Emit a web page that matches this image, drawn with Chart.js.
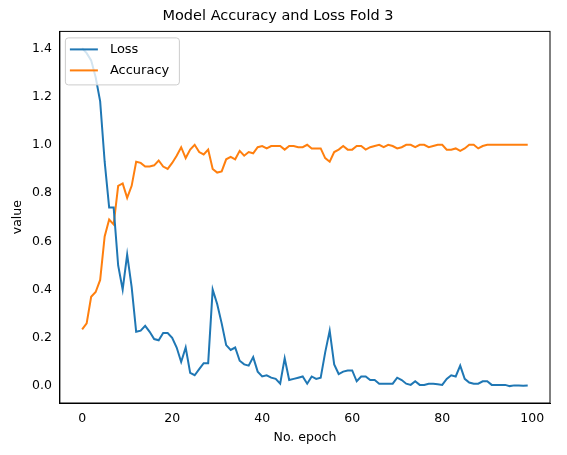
<!DOCTYPE html>
<html>
<head>
<meta charset="utf-8">
<script src="https://cdn.jsdelivr.net/npm/chart.js@4"></script>
<style>
  html, body { margin: 0; padding: 0; background: #fff; }
  #wrap { width: 567px; height: 455px; }
</style>
</head>
<body>
<div id="wrap"><canvas id="chart" width="567" height="455"></canvas></div>
<script>
// values, one per epoch
const lossValues = [1.40, 1.38, 1.35, 1.28, 1.18, 0.93, 0.74, 0.74, 0.50, 0.40,
  0.545, 0.41, 0.225, 0.23, 0.25, 0.225, 0.195, 0.19, 0.22, 0.22,
  0.20, 0.16, 0.10, 0.16, 0.055, 0.045, 0.07, 0.095, 0.095, 0.40,
  0.34, 0.26, 0.17, 0.15, 0.16, 0.105, 0.09, 0.085, 0.12, 0.06,
  0.04, 0.045, 0.035, 0.03, 0.01, 0.115, 0.025, 0.03, 0.035, 0.04,
  0.01, 0.04, 0.03, 0.035, 0.14, 0.23, 0.09, 0.05, 0.06, 0.065,
  0.065, 0.02, 0.04, 0.04, 0.025, 0.025, 0.01, 0.01, 0.01, 0.01,
  0.035, 0.025, 0.01, 0.005, 0.02, 0.005, 0.005, 0.01, 0.01, 0.008,
  0.005, 0.03, 0.045, 0.04, 0.085, 0.03, 0.015, 0.01, 0.01, 0.02,
  0.02, 0.005, 0.005, 0.005, 0.005, 0.0, 0.003, 0.003, 0.002, 0.003];

const accuracyValues = [0.235, 0.26, 0.37, 0.39, 0.44, 0.62, 0.69, 0.67, 0.83, 0.84,
  0.78, 0.83, 0.93, 0.925, 0.91, 0.91, 0.915, 0.935, 0.91, 0.90,
  0.925, 0.955, 0.99, 0.945, 0.98, 1.0, 0.97, 0.96, 0.98, 0.90,
  0.885, 0.89, 0.94, 0.95, 0.94, 0.975, 0.955, 0.97, 0.965, 0.99,
  0.995, 0.985, 0.995, 0.995, 0.995, 0.98, 0.995, 0.995, 0.99, 0.99,
  1.0, 0.985, 0.985, 0.985, 0.945, 0.93, 0.97, 0.98, 0.995, 0.98,
  0.98, 0.995, 0.995, 0.98, 0.99, 0.995, 1.0, 0.99, 1.0, 0.995,
  0.985, 0.99, 1.0, 1.0, 0.99, 1.0, 1.0, 0.99, 0.995, 1.0,
  1.0, 0.98, 0.98, 0.985, 0.975, 0.985, 1.0, 1.0, 0.985, 0.995,
  1.0, 1.0, 1.0, 1.0, 1.0, 1.0, 1.0, 1.0, 1.0, 1.0];

const xTicks = [0, 20, 40, 60, 80, 100];
const yTicks = [0.0, 0.2, 0.4, 0.6, 0.8, 1.0, 1.2, 1.4];

const toPoints = (arr) => arr.map((v, i) => ({ x: i, y: v }));
const font = { family: "DejaVu Sans", size: 12.5 };

// matplotlib-style legend inside the top-left of the plot
const insideLegend = {
  id: "insideLegend",
  afterDraw(chart) {
    const ctx = chart.ctx;
    const area = chart.chartArea;
    const x = area.left + 5, y = area.top + 6;
    ctx.save();
    ctx.font = "13px DejaVu Sans";
    const w = 114, h = 47;
    ctx.fillStyle = "rgba(255,255,255,0.8)";
    ctx.strokeStyle = "#ccc";
    ctx.lineWidth = 1;
    ctx.beginPath();
    ctx.roundRect(x + 0.5, y + 0.5, w, h, 3);
    ctx.fill();
    ctx.stroke();
    chart.data.datasets.forEach((ds, i) => {
      const ly = y + 12 + i * 21;
      ctx.strokeStyle = ds.borderColor;
      ctx.lineWidth = 2;
      ctx.beginPath();
      ctx.moveTo(x + 5, ly);
      ctx.lineTo(x + 33, ly);
      ctx.stroke();
      ctx.fillStyle = "#000";
      ctx.textBaseline = "middle";
      ctx.fillText(ds.label, x + 45, ly);
    });
    ctx.restore();
  },
};

new Chart(document.querySelector("#chart"), {
  type: "line",
  data: {
    datasets: [
      { label: "Loss", data: toPoints(lossValues), borderColor: "#1f77b4", borderWidth: 2, pointRadius: 0, tension: 0 },
      { label: "Accuracy", data: toPoints(accuracyValues), borderColor: "#ff7f0e", borderWidth: 2, pointRadius: 0, tension: 0 },
    ],
  },
  options: {
    responsive: false,
    animation: false,
    layout: { padding: { left: 6, right: 17, top: 0, bottom: 6 } },
    plugins: {
      legend: { display: false },
      tooltip: { enabled: false },
      title: { display: true, text: "Model Accuracy and Loss Fold 3", color: "#000",
        font: { family: "DejaVu Sans", size: 14.5, weight: "normal" }, padding: { top: 8, bottom: 6 } },
    },
    scales: {
      x: {
        type: "linear", min: -4.95, max: 103.95,
        afterBuildTicks: (axis) => { axis.ticks = xTicks.map((v) => ({ value: v })); },
        grid: { display: false, drawTicks: true, tickLength: 5, tickColor: "#000" },
        border: { color: "#000" },
        ticks: { color: "#000", font, maxRotation: 0, padding: 3 },
        title: { display: true, text: "No. epoch", color: "#000", font, padding: { top: 1 } },
      },
      y: {
        min: -0.07, max: 1.47,
        afterBuildTicks: (axis) => { axis.ticks = yTicks.map((v) => ({ value: v })); },
        grid: { display: false, drawTicks: true, tickLength: 5, tickColor: "#000" },
        border: { color: "#000" },
        ticks: { color: "#000", font, padding: 3, callback: (v) => v.toFixed(1) },
        title: { display: true, text: "value", color: "#000", font },
      },
    },
  },
  plugins: [insideLegend, {
    id: "frame",
    afterDraw(chart) {
      const { ctx, chartArea: a } = chart;
      ctx.save();
      ctx.strokeStyle = "#000";
      ctx.lineWidth = 1;
      ctx.strokeRect(a.left, a.top, a.right - a.left, a.bottom - a.top);
      ctx.restore();
    },
  }],
});
</script>
</body>
</html>
